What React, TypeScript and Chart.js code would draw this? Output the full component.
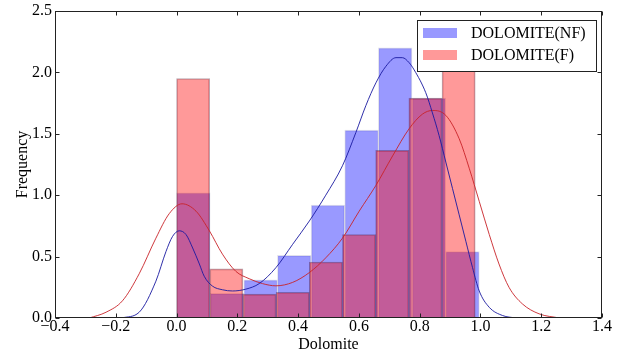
import React, { useEffect, useRef } from "react";
import { Chart, registerables } from "chart.js";

Chart.register(...registerables);

const FONT = "'Liberation Serif', 'Times New Roman', serif";

// Axis ticks
const xTicks = [-0.4, -0.2, 0.0, 0.2, 0.4, 0.6, 0.8, 1.0, 1.2, 1.4];
const yTicks = [0.0, 0.5, 1.0, 1.5, 2.0, 2.5];

// Series labels
const seriesLabels = ["DOLOMITE(NF)", "DOLOMITE(F)"];

// Histogram (density) — NF
const nfBinCenters = [0.0553, 0.166, 0.2767, 0.3874, 0.4981, 0.6088, 0.7195, 0.8302, 0.9409];
const nfHeights = [1.02, 0.2, 0.31, 0.51, 0.92, 1.53, 2.2, 1.79, 0.54];

// Histogram (density) — F
const fBinCenters = [0.0546, 0.1638, 0.273, 0.3822, 0.4914, 0.6006, 0.7098, 0.819, 0.9282];
const fHeights = [1.95, 0.4, 0.195, 0.21, 0.456, 0.68, 1.365, 1.79, 2.02];

// KDE curve — NF
const nfKdeX = [-0.18, -0.123, -0.068, -0.035, -0.013, 0.009, 0.031, 0.053, 0.075, 0.091, 0.118, 0.151, 0.184, 0.228, 0.272, 0.327, 0.382, 0.437, 0.491, 0.546, 0.59, 0.623, 0.656, 0.689, 0.722, 0.743, 0.765, 0.782, 0.82, 0.842, 0.864, 0.886, 0.908, 0.93, 0.952, 0.974, 0.996, 1.029, 1.073, 1.116];
const nfKdeY = [0.0, 0.047, 0.3, 0.54, 0.665, 0.71, 0.68, 0.57, 0.44, 0.34, 0.26, 0.23, 0.22, 0.235, 0.28, 0.41, 0.6, 0.79, 1.0, 1.24, 1.51, 1.73, 1.915, 2.05, 2.12, 2.12, 2.08, 2.02, 1.835, 1.67, 1.485, 1.27, 1.055, 0.84, 0.625, 0.41, 0.22, 0.087, 0.02, 0.0];

// KDE curve — F
const fKdeX = [-0.287, -0.232, -0.178, -0.123, -0.068, -0.024, 0.018, 0.064, 0.108, 0.151, 0.195, 0.239, 0.283, 0.327, 0.382, 0.437, 0.491, 0.546, 0.601, 0.656, 0.711, 0.765, 0.809, 0.842, 0.886, 0.93, 0.963, 0.996, 1.029, 1.061, 1.094, 1.138, 1.193, 1.26];
const fKdeY = [0.0, 0.047, 0.14, 0.36, 0.65, 0.85, 0.93, 0.87, 0.71, 0.52, 0.38, 0.32, 0.28, 0.262, 0.29, 0.37, 0.49, 0.65, 0.87, 1.08, 1.32, 1.54, 1.66, 1.69, 1.65, 1.46, 1.22, 0.95, 0.68, 0.44, 0.25, 0.115, 0.034, 0.0];

const NF_FILL = "rgba(0,0,255,0.4)";
const F_FILL = "rgba(255,0,0,0.4)";

const fmt = (v: number) => {
  const s = Number(v).toFixed(1);
  return s.startsWith("-") ? "\u2212" + s.slice(1) : s;
};

const framePlugin = {
  id: "frameTicks",
  afterDatasetsDraw(chart: any) {
    const { ctx, chartArea } = chart;
    const { left, right, top, bottom } = chartArea;
    ctx.save();
    ctx.strokeStyle = "#222";
    ctx.lineWidth = 1;
    const L = Math.round(left) + 0.5;
    const R = Math.round(right) - 0.5;
    const T = Math.round(top) + 0.5;
    const B = Math.round(bottom) - 0.5;
    ctx.strokeRect(L, T, R - L, B - T);
    const tl = 4;
    ctx.beginPath();
    const xs = chart.scales.x;
    xTicks.forEach((v) => {
      const px = Math.round(xs.getPixelForValue(v)) + 0.5;
      ctx.moveTo(px, B);
      ctx.lineTo(px, B - tl);
      ctx.moveTo(px, T);
      ctx.lineTo(px, T + tl);
    });
    const ys = chart.scales.y;
    yTicks.forEach((v) => {
      const py = Math.round(ys.getPixelForValue(v)) + 0.5;
      ctx.moveTo(L, py);
      ctx.lineTo(L + tl, py);
      ctx.moveTo(R, py);
      ctx.lineTo(R - tl, py);
    });
    ctx.stroke();
    ctx.restore();
  },
  afterDraw(chart: any) {
    const { ctx, chartArea } = chart;
    const boxR = chartArea.right - 6;
    const boxL = boxR - 179;
    const boxT = chartArea.top + 9;
    const boxH = 51;
    ctx.save();
    ctx.fillStyle = "#ffffff";
    ctx.fillRect(boxL, boxT, boxR - boxL, boxH);
    ctx.strokeStyle = "#222";
    ctx.lineWidth = 1;
    ctx.strokeRect(Math.round(boxL) + 0.5, Math.round(boxT) + 0.5, Math.round(boxR - boxL), boxH);
    const fills = [NF_FILL, F_FILL];
    ctx.font = `16px ${FONT}`;
    ctx.textBaseline = "middle";
    ctx.textAlign = "left";
    seriesLabels.forEach((lab, i) => {
      const cy = boxT + 13 + i * 22;
      ctx.fillStyle = fills[i];
      ctx.fillRect(boxL + 6, cy - 5, 34, 10);
      ctx.fillStyle = "#000";
      ctx.fillText(lab, boxL + 54, cy + 1);
    });
    ctx.restore();
  },
};

export default function App() {
  const ref = useRef<HTMLCanvasElement | null>(null);

  useEffect(() => {
    if (!ref.current) return;
    document.body.style.margin = "0";
    const chart = new Chart(ref.current, {
      type: "bar",
      data: {
        datasets: [
          {
            type: "line",
            label: seriesLabels[0] + " KDE",
            data: nfKdeX.map((x, i) => ({ x, y: nfKdeY[i] })),
            borderColor: "rgb(25,25,160)",
            borderWidth: 0.9,
            pointRadius: 0,
            cubicInterpolationMode: "monotone",
            xAxisID: "x",
            yAxisID: "y",
            order: 0,
          } as any,
          {
            type: "line",
            label: seriesLabels[1] + " KDE",
            data: fKdeX.map((x, i) => ({ x, y: fKdeY[i] })),
            borderColor: "rgb(200,35,40)",
            borderWidth: 0.9,
            pointRadius: 0,
            cubicInterpolationMode: "monotone",
            xAxisID: "x",
            yAxisID: "y",
            order: 0,
          } as any,
          {
            type: "bar",
            label: seriesLabels[1],
            data: fBinCenters.map((x, i) => ({ x, y: fHeights[i] })),
            backgroundColor: F_FILL,
            borderColor: "rgba(60,0,30,0.35)",
            borderWidth: 1,
            borderSkipped: "start",
            xAxisID: "x2",
            yAxisID: "y",
            barPercentage: 1,
            categoryPercentage: 1,
            grouped: false,
            order: 1,
          } as any,
          {
            type: "bar",
            label: seriesLabels[0],
            data: nfBinCenters.map((x, i) => ({ x, y: nfHeights[i] })),
            backgroundColor: NF_FILL,
            borderColor: "rgba(0,0,90,0.12)",
            borderWidth: 1,
            borderSkipped: "start",
            xAxisID: "x",
            yAxisID: "y",
            barPercentage: 1,
            categoryPercentage: 1,
            grouped: false,
            order: 2,
          } as any,
        ],
      },
      options: {
        responsive: false,
        animation: false,
        devicePixelRatio: 1,
        layout: { padding: { top: 8, right: 22, left: 0, bottom: 0 } },
        plugins: {
          legend: { display: false },
          tooltip: { enabled: false },
        },
        scales: {
          x: {
            type: "linear",
            position: "bottom",
            min: -0.4,
            max: 1.4,
            offset: false,
            grid: { display: false, offset: false, drawTicks: false },
            border: { display: false },
            afterBuildTicks: (s: any) => {
              s.ticks = xTicks.map((v) => ({ value: v }));
            },
            afterFit: (s: any) => {
              s.height = 42;
            },
            ticks: {
              padding: 1,
              color: "#000",
              font: { family: FONT, size: 16, lineHeight: 1 },
              callback: (v: any) => fmt(v),
              maxRotation: 0,
              autoSkip: false,
            },
            title: {
              display: true,
              text: "Dolomite",
              color: "#000",
              font: { family: FONT, size: 16, lineHeight: 1.2 },
              padding: { top: 0, bottom: 6 },
            },
          },
          x2: {
            type: "linear",
            position: "bottom",
            display: false,
            min: -0.4,
            max: 1.4,
            offset: false,
            grid: { display: false, offset: false },
            afterBuildTicks: (s: any) => {
              s.ticks = xTicks.map((v) => ({ value: v }));
            },
          },
          y: {
            type: "linear",
            position: "left",
            min: 0,
            max: 2.5,
            grid: { display: false, drawTicks: false },
            border: { display: false },
            afterBuildTicks: (s: any) => {
              s.ticks = yTicks.map((v) => ({ value: v }));
            },
            afterFit: (s: any) => {
              s.width = 55;
            },
            ticks: {
              padding: 3,
              color: "#000",
              font: { family: FONT, size: 16, lineHeight: 1 },
              callback: (v: any) => fmt(v),
            },
            title: {
              display: true,
              text: "Frequency",
              color: "#000",
              font: { family: FONT, size: 16, lineHeight: 1.2 },
              padding: { top: 13, bottom: 0 },
            },
          },
        },
      } as any,
      plugins: [framePlugin],
    });
    return () => chart.destroy();
  }, []);

  return (
    <div style={{ position: "fixed", left: 0, top: 0, width: 624, height: 360, background: "#fff" }}>
      <canvas ref={ref} width={624} height={360} style={{ display: "block" }} />
    </div>
  );
}
